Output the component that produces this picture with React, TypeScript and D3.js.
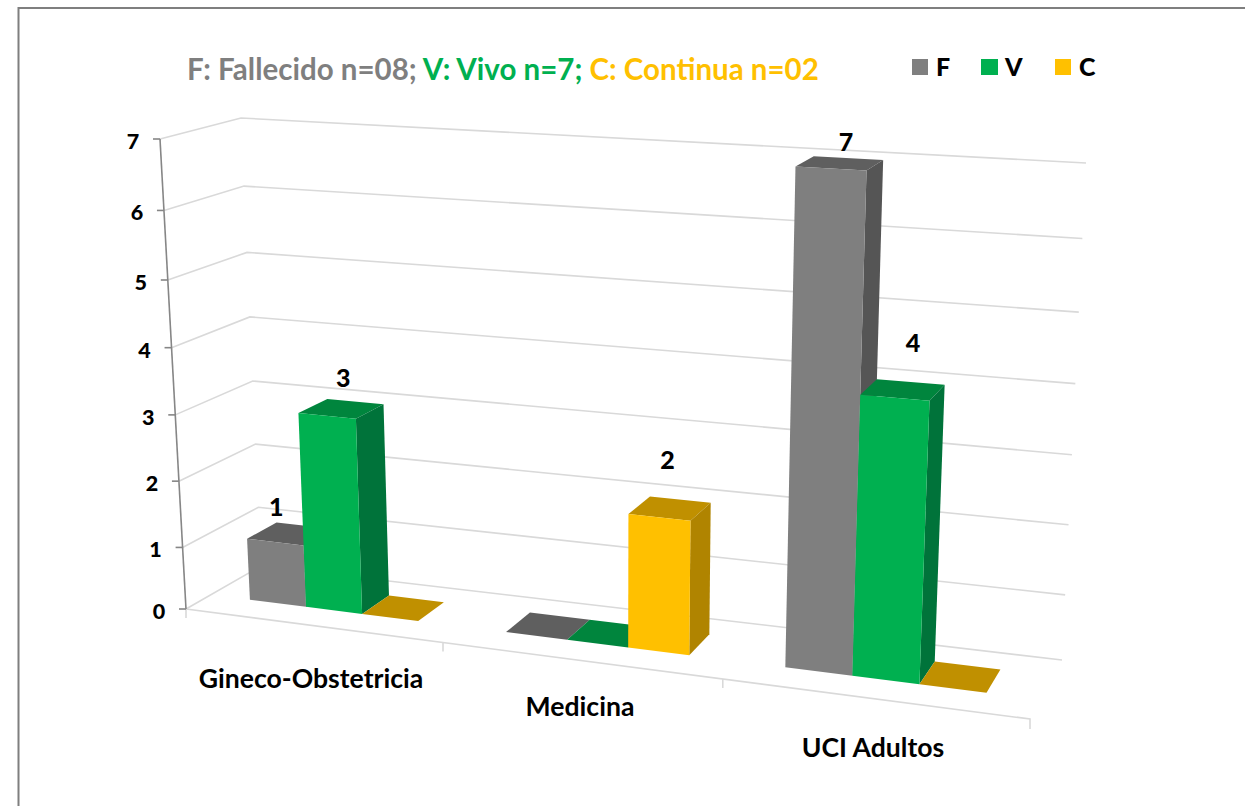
import React from "react";
import * as d3 from "d3";

const categories = ["Gineco-Obstetricia", "Medicina", "UCI Adultos"];
const seriesNames = ["F", "V", "C"];
const fValues = [1, 0, 7];
const vValues = [3, 0, 4];
const cValues = [0, 2, 0];
const yTicks = [0, 1, 2, 3, 4, 5, 6, 7];

const frontColors = ["#7f7f7f", "#00b050", "#ffc000"];
const topColors = ["#5f5f5f", "#00853d", "#c09000"];
const sideColors = ["#555555", "#00733a", "#b08400"];
const FONT = "Lato, 'Open Sans', sans-serif";

type P = [number, number];
// cube corners on screen: front/back, left/right, floor/ceiling
const FL0: P = [186, 609], FR0: P = [1030, 719], BL0: P = [261, 566], BR0: P = [1062, 660];
const FL7: P = [160, 139], FR7: P = [1056, 191], BL7: P = [241, 118], BR7: P = [1086, 163];

// perspective: upper gridlines are spaced a little wider than lower ones
const vT = d3.scaleLinear().domain(yTicks).range([0, 0.131, 0.272, 0.413, 0.556, 0.7, 0.848, 1]);
const catU = d3.scaleLinear().domain([0, 1, 2, 3]).range([0, 0.3045, 0.636, 1]);
const mix = d3.interpolateNumber;

function proj(u: number, d: number, v: number): P {
  const bil = (a: P, b: P, c: P, e: P, i: number) =>
    mix(mix(a[i], b[i])(u), mix(c[i], e[i])(u))(d);
  const t = vT(v);
  return [0, 1].map((i) =>
    mix(bil(FL0, FR0, BL0, BR0, i), bil(FL7, FR7, BL7, BR7, i))(t)
  ) as P;
}
const line = d3.line();
const poly = (pts: P[]) => line(pts)! + "Z";

const D0 = 0.33, D1 = 0.73;
const BAR_START = 0.155, BAR_W = 0.222;

const barValues = [fValues, vValues, cValues];
const labelOffsets: Record<string, P> = {
  "0-0": [1, -36], "1-0": [16, -39], "2-1": [8, -58], "0-2": [15, -27], "1-2": [18, -56],
};
const catLabelPos: P[] = [[311, 678], [580, 706], [873, 747]];

export default function App() {
  const sx = seriesNames.map((_, s) => BAR_START + s * BAR_W);
  return (
    <svg width={1245} height={806} style={{ position: "absolute", left: 0, top: 0, background: "#fff" }}>
      <path d="M18.5 806V8H1245" fill="none" stroke="#7f7f7f" strokeWidth={2} />

      {/* walls */}
      {yTicks.map((v) => (
        <path key={v} fill="none" stroke="#d9d9d9" strokeWidth={1.6}
          d={line([proj(0, 0, v), proj(0, 1, v), proj(1, 1, v)])!} />
      ))}
      <path fill="none" stroke="#d9d9d9" strokeWidth={1.6}
        d={line([proj(0, 0, 0), proj(1, 0, 0), [FR0[0], FR0[1] + 10]])!} />
      {[0, 1, 2].map((c) => {
        const p = proj(catU(c), 0, 0);
        return <path key={c} stroke="#d9d9d9" strokeWidth={1.6} d={`M${p[0]} ${p[1]}v9`} />;
      })}

      {/* value axis */}
      <path fill="none" stroke="#868686" strokeWidth={1.6} d={line([proj(0, 0, 0), proj(0, 0, 7)])!} />
      {yTicks.map((v) => {
        const p = proj(0, 0, v);
        return (
          <g key={v}>
            <path stroke="#868686" strokeWidth={1.6} d={`M${p[0] - 7} ${p[1]}H${p[0]}`} />
            <text x={p[0] - 27} y={p[1] + 2} textAnchor="middle" dominantBaseline="central"
              fontFamily={FONT} fontWeight={900} fontSize={21.5} fill="#000">{v}</text>
          </g>
        );
      })}

      {/* bars */}
      {categories.map((_, c) =>
        seriesNames.map((_, s) => {
          const v = barValues[s][c];
          const u0 = catU(c + sx[s]);
          const u1 = catU(c + sx[s] + BAR_W);
          const top = [proj(u0, D0, v), proj(u1, D0, v), proj(u1, D1, v), proj(u0, D1, v)];
          const off = labelOffsets[`${s}-${c}`];
          const mid = proj((u0 + u1) / 2, D0, v);
          return (
            <g key={`${c}-${s}`}>
              <path d={poly(top)} fill={topColors[s]} />
              {v > 0 && (
                <>
                  <path d={poly([proj(u1, D0, 0), proj(u1, D1, 0), proj(u1, D1, v), proj(u1, D0, v)])} fill={sideColors[s]} />
                  <path d={poly([proj(u0, D0, 0), proj(u1, D0, 0), proj(u1, D0, v), proj(u0, D0, v)])} fill={frontColors[s]} />
                </>
              )}
              {v > 0 && off && (
                <text x={mid[0] + off[0]} y={mid[1] + off[1]} textAnchor="middle" dominantBaseline="central"
                  fontFamily={FONT} fontWeight={900} fontSize={25} fill="#000">{v}</text>
              )}
            </g>
          );
        })
      )}

      {/* category labels */}
      {categories.map((name, c) => (
        <text key={name} x={catLabelPos[c][0]} y={catLabelPos[c][1]} textAnchor="middle" dominantBaseline="central"
          fontFamily={FONT} fontWeight={700} fontSize={26.6} fill="#000">{name}</text>
      ))}

      {/* title */}
      <text x={187} y={80} fontFamily={FONT} fontWeight={700} fontSize={29.5}>
        <tspan fill="#7f7f7f">F: Fallecido n=08; </tspan>
        <tspan fill="#00b050">V: Vivo n=7; </tspan>
        <tspan fill="#ffc000">C: Continua n=02</tspan>
      </text>

      {/* legend */}
      {seriesNames.map((name, s) => {
        const lx = [912, 981, 1055][s];
        return (
          <g key={name}>
            <rect x={lx} y={59} width={s === 1 ? 17 : 16} height={16} fill={frontColors[s]} />
            <text x={lx + 24} y={66} dominantBaseline="central" fontFamily={FONT} fontWeight={900} fontSize={25} fill="#000">{name}</text>
          </g>
        );
      })}
    </svg>
  );
}
